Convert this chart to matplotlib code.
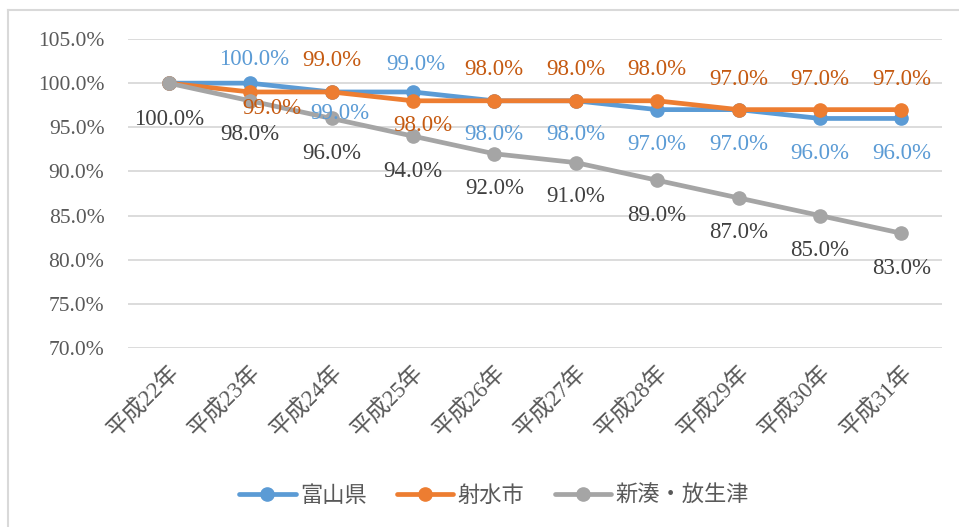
import matplotlib
matplotlib.use("Agg")
import matplotlib.pyplot as plt
from matplotlib.lines import Line2D

categories = ["平成22年", "平成23年", "平成24年", "平成25年", "平成26年",
              "平成27年", "平成28年", "平成29年", "平成30年", "平成31年"]
toyama = [100, 100, 99, 99, 98, 98, 97, 97, 96, 96]
imizu = [100, 99, 99, 98, 98, 98, 98, 97, 97, 97]
shinminato = [100, 98, 96, 94, 92, 91, 89, 87, 85, 83]
series_names = ["富山県", "射水市", "新湊・放生津"]
yticks = [70, 75, 80, 85, 90, 95, 100, 105]

# label offsets (pixels); None = no label shown
off_toyama = [None, (4, 24), (8, -22), (3, 27), (0, -34), (0, -34), (0, -35), (0, -35), (0, -35), (0, -35)]
off_imizu = [None, (22, -17), (0, 31), (10, -25), (0, 31), (0, 31), (0, 31), (0, 30), (0, 30), (0, 30)]
off_shin = [(0, -36), (0, -34), (0, -35), (0, -35), (0, -35), (0, -34), (0, -35), (0, -35), (0, -35), (0, -35)]

line_colors = ["#5B9BD5", "#ED7D31", "#A5A5A5"]
label_colors = ["#5B9BD5", "#C55A11", "#404040"]

serif = ["Liberation Serif", "Noto Sans CJK JP"]
cjk = ["Noto Sans CJK JP", "DejaVu Sans"]

fig = plt.figure(figsize=(9.59, 5.27), dpi=100)
ax = fig.add_axes([128 / 959, 1 - 348 / 527, (942 - 128) / 959, (348 - 39) / 527])

x = list(range(len(categories)))
all_series = [toyama, imizu, shinminato]
all_offsets = [off_toyama, off_imizu, off_shin]
handles = []
for vals, name, lc, tc, offs in zip(all_series, series_names, line_colors, label_colors, all_offsets):
    h, = ax.plot(x, vals, color=lc, lw=3.4, marker="o", markersize=9.5,
                 markeredgecolor=lc, label=name, solid_capstyle="round", zorder=3)
    handles.append(h)
    for xi, v, o in zip(x, vals, offs):
        if o is None:
            continue
        ax.annotate(f"{v:.1f}%", (xi, v), xytext=(o[0], o[1]), textcoords="offset pixels",
                    ha="center", va="center", color=tc, fontsize=16.5, family=serif, zorder=4)

ax.set_xlim(-0.5, len(categories) - 0.5)
ax.set_ylim(70, 105)
ax.set_yticks(yticks)
ax.set_yticklabels([f"{t:.1f}%" for t in yticks], family=serif, fontsize=15.5, color="#595959")
ax.set_xticks(x)
ax.set_xticklabels(categories, rotation=45, ha="right", rotation_mode="anchor",
                   family=serif, fontsize=16.5, color="#595959")
ax.tick_params(axis="both", length=0)
ax.tick_params(axis="y", pad=17)
ax.tick_params(axis="x", pad=10)
ax.grid(axis="y", color="#D9D9D9", lw=1.3, zorder=0)
ax.set_axisbelow(True)
for s in ax.spines.values():
    s.set_visible(False)

leg = fig.legend(handles=handles, loc="center", bbox_to_anchor=(494 / 959, 1 - 495 / 527),
                 ncol=3, frameon=False, prop={"family": cjk, "size": 16},
                 handlelength=2.55, handletextpad=0.2, columnspacing=1.35)
for t in leg.get_texts():
    t.set_color("#595959")

# chart frame (partially visible)
fy = 1 - 10 / 527
fx = 8 / 959
fig.add_artist(Line2D([fx, 1], [fy, fy], transform=fig.transFigure, color="#D9D9D9", lw=1.5))
fig.add_artist(Line2D([fx, fx], [fy, 0], transform=fig.transFigure, color="#D9D9D9", lw=1.5))

fig.savefig("out.png", dpi=100)
